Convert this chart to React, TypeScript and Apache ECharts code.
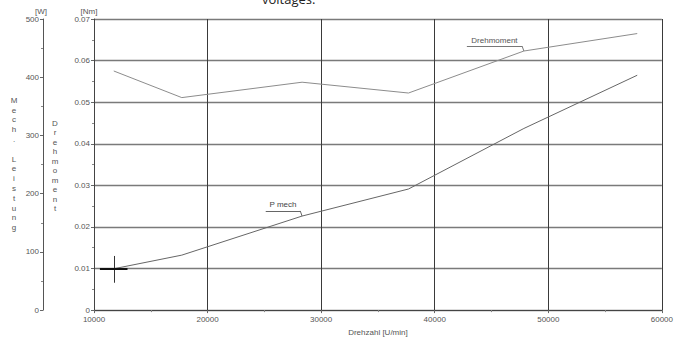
import React, { useEffect, useRef } from "react";
import * as echarts from "echarts";

const rpm = [11740, 17730, 28320, 37690, 47850, 57830];
const torque = [0.0575, 0.0511, 0.0548, 0.0522, 0.0623, 0.0665];
const power = [71, 94.4, 161.5, 208, 312, 403.4];

const xTicks = [10000, 20000, 30000, 40000, 50000, 60000];
const nmTicks = [0, 0.01, 0.02, 0.03, 0.04, 0.05, 0.06, 0.07];
const wTicks = [0, 100, 200, 300, 400, 500];

const torqueLabel = "Drehmoment";
const powerLabel = "P mech";
const xTitle = "Drehzahl [U/min]";
const wTitle = "Mech. Leistung";
const nmTitle = "Drehmoment";
const topText = "voltages.";

// annotation leader positions (data coordinates)
const torqueLeader = [[42830, 0.0635], [47690, 0.0635], [47850, 0.0623]];
const powerLeader = [[25120, 170.4], [28160, 170.4], [28320, 161.5]];
const cursorV = [[11740, 47], [11740, 93]];
const cursorH = [[10520, 71], [12950, 71]];

const FONT = "Liberation Sans";
const TXT = "#555555";

export default function App() {
  const ref = useRef<HTMLDivElement>(null);
  useEffect(() => {
    if (!ref.current) return;
    const chart = echarts.init(ref.current, null, { renderer: "svg" });
    const axisLabel = { fontFamily: FONT, fontSize: 8, color: TXT };
    chart.setOption({
      animation: false,
      backgroundColor: "#ffffff",
      grid: { left: 94, right: 6, top: 19, bottom: 24 },
      graphic: [
        {
          type: "text",
          left: 262,
          top: -8,
          style: { text: topText, fontFamily: "Open Sans", fontSize: 13, fill: "#222222" },
        },
        {
          type: "text",
          x: 14,
          y: 164,
          style: {
            text: wTitle.split("").join("\n"),
            fontFamily: FONT,
            fontSize: 8,
            lineHeight: 9.8,
            fill: TXT,
            align: "center",
            verticalAlign: "middle",
          },
        },
        {
          type: "text",
          x: 55,
          y: 166,
          style: {
            text: nmTitle.split("").join("\n"),
            fontFamily: FONT,
            fontSize: 8,
            lineHeight: 9.5,
            fill: TXT,
            align: "center",
            verticalAlign: "middle",
          },
        },
      ],
      xAxis: {
        type: "value",
        min: xTicks[0],
        max: xTicks[xTicks.length - 1],
        interval: 10000,
        name: xTitle,
        nameLocation: "middle",
        nameGap: 15,
        nameTextStyle: { fontFamily: FONT, fontSize: 8, color: TXT },
        axisLine: { lineStyle: { color: "#444444", width: 1 } },
        axisTick: { show: true, length: 3, lineStyle: { color: "#666666" } },
        minorTick: { show: true, splitNumber: 2, length: 2, lineStyle: { color: "#888888" } },
        axisLabel: { ...axisLabel, margin: 5, formatter: (v: number) => String(v) },
        splitLine: { show: true, lineStyle: { color: "#3a3a3a", width: 1 } },
      },
      yAxis: [
        {
          type: "value",
          position: "left",
          min: nmTicks[0],
          max: nmTicks[nmTicks.length - 1],
          interval: 0.01,
          name: "[Nm]",
          nameLocation: "end",
          nameGap: 4,
          nameTextStyle: { fontFamily: FONT, fontSize: 8, color: TXT, padding: [0, 10, 0, 0] },
          axisLine: { show: true, lineStyle: { color: "#444444", width: 1 } },
          axisTick: { show: true, length: 3, lineStyle: { color: "#666666" } },
          minorTick: { show: true, splitNumber: 2, length: 2, lineStyle: { color: "#888888" } },
          axisLabel: { ...axisLabel, margin: 4, formatter: (v: number) => (v === 0 ? "0" : v.toFixed(2)) },
          splitLine: { show: true, lineStyle: { color: "#7a7a7a", width: 1.4 } },
        },
        {
          type: "value",
          position: "left",
          offset: 51,
          min: wTicks[0],
          max: wTicks[wTicks.length - 1],
          interval: 100,
          name: "[W]",
          nameLocation: "end",
          nameGap: 4,
          nameTextStyle: { fontFamily: FONT, fontSize: 8, color: TXT, padding: [0, 4, 0, 0] },
          axisLine: { show: true, lineStyle: { color: "#555555", width: 1 } },
          axisTick: { show: true, length: 3, lineStyle: { color: "#666666" } },
          minorTick: { show: true, splitNumber: 2, length: 2, lineStyle: { color: "#888888" } },
          axisLabel: { ...axisLabel, margin: 4 },
          splitLine: { show: false },
        },
      ],
      series: [
        {
          type: "line",
          name: torqueLabel,
          yAxisIndex: 0,
          data: rpm.map((x, i) => [x, torque[i]]),
          showSymbol: false,
          lineStyle: { color: "#8c8c8c", width: 1 },
          markLine: {
            silent: true,
            symbol: ["none", "none"],
            lineStyle: { color: "#777777", width: 1, type: "solid" },
            data: [
              [
                {
                  coord: torqueLeader[0],
                  label: {
                    show: true,
                    position: "insideMiddleTop",
                    formatter: torqueLabel,
                    fontFamily: FONT,
                    fontSize: 8,
                    color: "#555555",
                    distance: 2,
                  },
                },
                { coord: torqueLeader[1] },
              ],
              [
                { coord: torqueLeader[1], label: { show: false } },
                { coord: torqueLeader[2] },
              ],
            ],
          },
        },
        {
          type: "line",
          name: powerLabel,
          yAxisIndex: 1,
          data: rpm.map((x, i) => [x, power[i]]),
          showSymbol: false,
          lineStyle: { color: "#666666", width: 1 },
          markLine: {
            silent: true,
            symbol: ["none", "none"],
            lineStyle: { color: "#666666", width: 1, type: "solid" },
            data: [
              [
                {
                  coord: powerLeader[0],
                  label: {
                    show: true,
                    position: "insideMiddleTop",
                    formatter: powerLabel,
                    fontFamily: FONT,
                    fontSize: 8,
                    color: "#444444",
                    distance: 2,
                  },
                },
                { coord: powerLeader[1] },
              ],
              [
                { coord: powerLeader[1], label: { show: false } },
                { coord: powerLeader[2] },
              ],
              [
                { coord: cursorV[0], label: { show: false }, lineStyle: { color: "#333333" } },
                { coord: cursorV[1] },
              ],
              [
                { coord: cursorH[0], label: { show: false }, lineStyle: { color: "#111111", width: 2 } },
                { coord: cursorH[1] },
              ],
            ],
          },
        },
      ],
    });
    return () => chart.dispose();
  }, []);
  return (
    <div
      ref={ref}
      style={{ position: "fixed", left: 0, top: 0, width: 676, height: 341 }}
    />
  );
}
